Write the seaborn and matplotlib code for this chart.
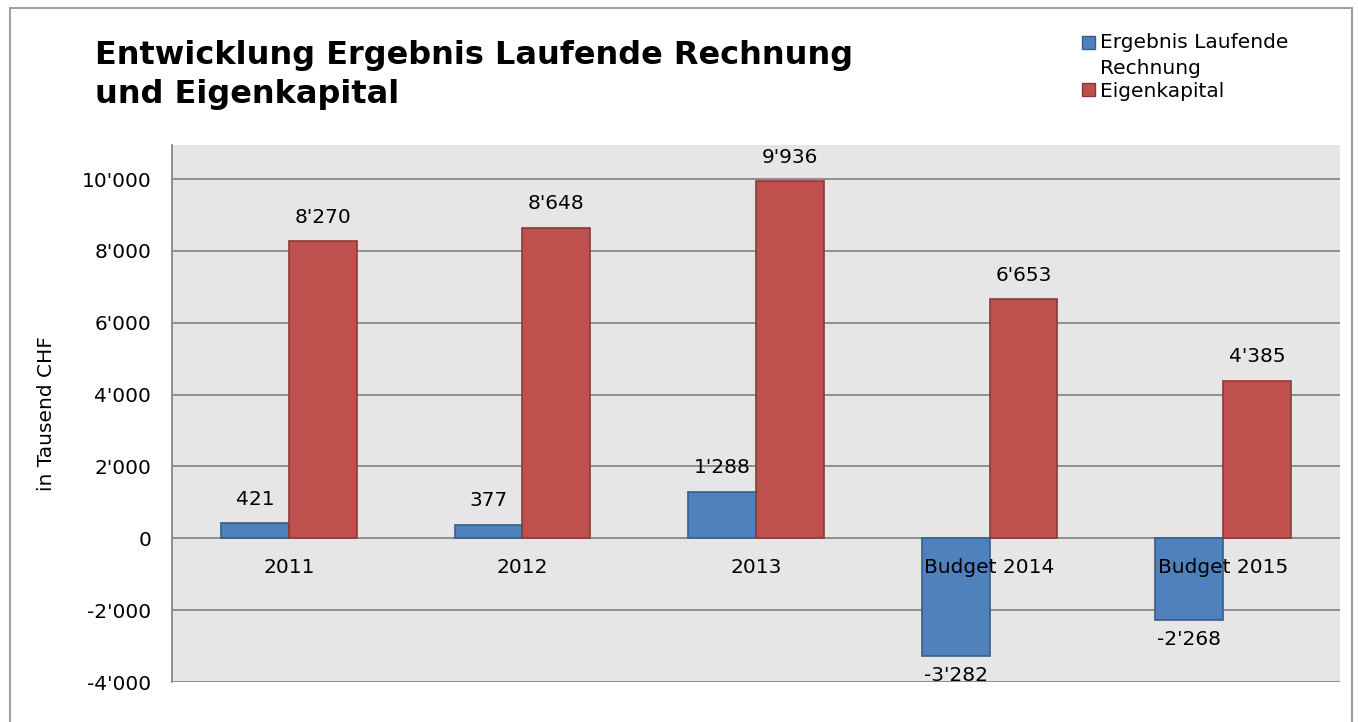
import pandas as pd
import numpy as np
import matplotlib.pyplot as plt
import seaborn as sns
from matplotlib.patches import Rectangle
from matplotlib.legend_handler import HandlerPatch

categories = ['2011', '2012', '2013', 'Budget 2014', 'Budget 2015']
ergebnis = [421, 377, 1288, -3282, -2268]
eigenkapital = [8270, 8648, 9936, 6653, 4385]
series = ['Ergebnis Laufende\nRechnung', 'Eigenkapital']

df = pd.DataFrame({
    'Jahr': categories * 2,
    'Wert': ergebnis + eigenkapital,
    'Serie': [series[0]] * 5 + [series[1]] * 5,
})

sns.set_style('white')
plt.rcParams['font.family'] = ['DejaVu Sans']
plt.rcParams['text.color'] = 'black'
plt.rcParams['xtick.color'] = 'black'
plt.rcParams['ytick.color'] = 'black'
plt.rcParams['axes.labelcolor'] = 'black'

fs = 14.5
fig = plt.figure(figsize=(13.58, 7.22), dpi=100)
ax = fig.add_axes([172 / 1358, 1 - 682 / 722, 1168 / 1358, (682 - 145) / 722])

colors = ['#4F81BD', '#C0504D']
edges = ['#385D8A', '#8C3836']
sns.barplot(data=df, x='Jahr', y='Wert', hue='Serie', palette=colors,
            width=0.58, gap=0, ax=ax, legend=False, linewidth=0, saturation=1)

# edges + value labels (positive ones sit a bit higher, like Excel)
fmt = lambda v: f"{v:,.0f}".replace(",", "'")
for cont, ec in zip(ax.containers, edges):
    for b in cont:
        b.set_edgecolor(ec)
        b.set_linewidth(1.2)
    h = [b.get_height() for b in cont]
    ax.bar_label(cont, labels=[fmt(v) if v >= 0 else '' for v in h],
                 padding=10.5, fontsize=fs)
    ax.bar_label(cont, labels=[fmt(v) if v < 0 else '' for v in h],
                 padding=7, fontsize=fs)

ax.set_facecolor('#E6E6E6')
ax.set_xlim(-0.5, 4.5)
ax.set_ylim(-4000, 10950)
yt = np.arange(-4000, 10001, 2000)
ax.set_yticks(yt)
ax.set_yticklabels([fmt(t) for t in yt], fontsize=fs)
ax.yaxis.grid(True, color='#878787', linewidth=1.3)
ax.set_axisbelow(True)

for s in ['top', 'right', 'bottom']:
    ax.spines[s].set_visible(False)
ax.spines['left'].set_color('#878787')
ax.spines['left'].set_linewidth(1.3)
ax.tick_params(axis='y', length=7, width=1.3, color='#878787', pad=8)

# category labels sit just under the zero line, drawn over the bars
ax.set_xticks([])
ax.set_xlabel('')
for i, c in enumerate(categories):
    ax.annotate(c, (i, 0), xytext=(0, -14), textcoords='offset points',
                ha='center', va='top', fontsize=fs, zorder=10)
ax.set_ylabel('in Tausend CHF', fontsize=fs, labelpad=18)

# title
fig.text(95 / 1358, 1 - 40 / 722, 'Entwicklung Ergebnis Laufende Rechnung\nund Eigenkapital',
         fontsize=23, fontweight='bold', va='top', ha='left', linespacing=1.35)

# legend (first square lifted to the first text line, like Excel)
def lifted(legend, orig_handle, xdescent, ydescent, width, height, fontsize):
    return Rectangle((-xdescent, -ydescent + 9.5), width, height)

handles = [Rectangle((0, 0), 1, 1, facecolor=c, edgecolor=e) for c, e in zip(colors, edges)]
leg = fig.legend(handles, series, loc='upper left', bbox_to_anchor=(1082 / 1358, 1 - 33 / 722),
                 frameon=False, fontsize=fs, handlelength=0.65, handleheight=0.65,
                 handletextpad=0.25, labelspacing=0.2, borderaxespad=0, borderpad=0,
                 handler_map={handles[0]: HandlerPatch(patch_func=lifted)})
for t in leg.get_texts():
    t.set_linespacing(1.45)

# figure border
fig.patches.append(Rectangle((10 / 1358, -0.01), 1342 / 1358, 1 - 8 / 722 + 0.01,
                             transform=fig.transFigure, fill=False,
                             edgecolor='#A0A0A0', linewidth=1.5))

fig.savefig('out.png', dpi=100)
